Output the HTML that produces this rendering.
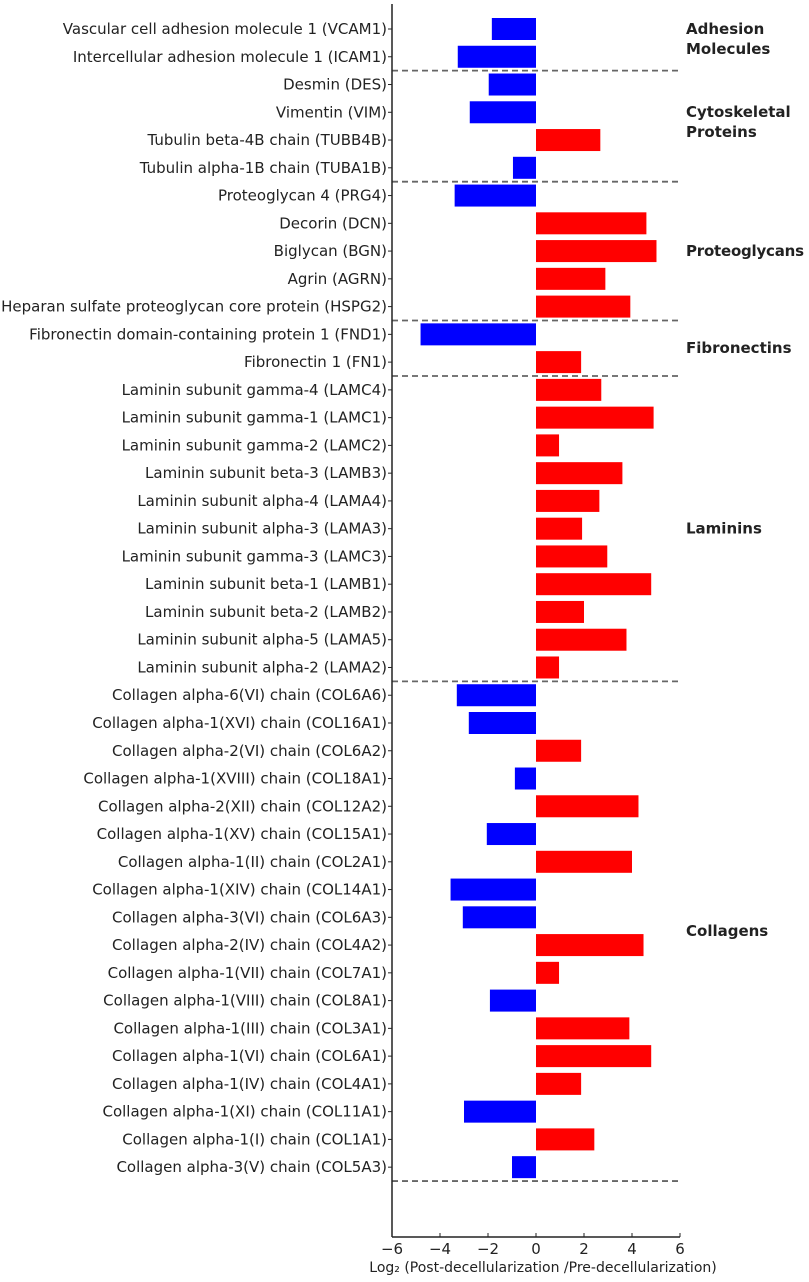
<!DOCTYPE html>
<html><head><meta charset="utf-8"><style>
html,body{margin:0;padding:0;background:#fff}
svg{display:block;font-family:"DejaVu Sans","Liberation Sans",sans-serif}
</style></head><body>
<svg id="chart" width="809" height="1282" viewBox="0 0 809 1282" xmlns="http://www.w3.org/2000/svg"></svg>
<script>
const categories=["Vascular cell adhesion molecule 1 (VCAM1)","Intercellular adhesion molecule 1 (ICAM1)","Desmin (DES)","Vimentin (VIM)","Tubulin beta-4B chain (TUBB4B)","Tubulin alpha-1B chain (TUBA1B)","Proteoglycan 4 (PRG4)","Decorin (DCN)","Biglycan (BGN)","Agrin (AGRN)","Heparan sulfate proteoglycan core protein (HSPG2)","Fibronectin domain-containing protein 1 (FND1)","Fibronectin 1 (FN1)","Laminin subunit gamma-4 (LAMC4)","Laminin subunit gamma-1 (LAMC1)","Laminin subunit gamma-2 (LAMC2)","Laminin subunit beta-3 (LAMB3)","Laminin subunit alpha-4 (LAMA4)","Laminin subunit alpha-3 (LAMA3)","Laminin subunit gamma-3 (LAMC3)","Laminin subunit beta-1 (LAMB1)","Laminin subunit beta-2 (LAMB2)","Laminin subunit alpha-5 (LAMA5)","Laminin subunit alpha-2 (LAMA2)","Collagen alpha-6(VI) chain (COL6A6)","Collagen alpha-1(XVI) chain (COL16A1)","Collagen alpha-2(VI) chain (COL6A2)","Collagen alpha-1(XVIII) chain (COL18A1)","Collagen alpha-2(XII) chain (COL12A2)","Collagen alpha-1(XV) chain (COL15A1)","Collagen alpha-1(II) chain (COL2A1)","Collagen alpha-1(XIV) chain (COL14A1)","Collagen alpha-3(VI) chain (COL6A3)","Collagen alpha-2(IV) chain (COL4A2)","Collagen alpha-1(VII) chain (COL7A1)","Collagen alpha-1(VIII) chain (COL8A1)","Collagen alpha-1(III) chain (COL3A1)","Collagen alpha-1(VI) chain (COL6A1)","Collagen alpha-1(IV) chain (COL4A1)","Collagen alpha-1(XI) chain (COL11A1)","Collagen alpha-1(I) chain (COL1A1)","Collagen alpha-3(V) chain (COL5A3)"];
const values=[-1.84,-3.26,-1.97,-2.76,2.68,-0.96,-3.39,4.6,5.02,2.89,3.93,-4.81,1.88,2.72,4.9,0.96,3.6,2.64,1.92,2.97,4.8,2.0,3.77,0.96,-3.3,-2.8,1.88,-0.88,4.27,-2.05,4.0,-3.56,-3.05,4.48,0.96,-1.92,3.89,4.8,1.88,-3.0,2.43,-1.0];
const xTicks=[-6,-4,-2,0,2,4,6];
const groupNames=[["Adhesion","Molecules"],["Cytoskeletal","Proteins"],["Proteoglycans"],["Fibronectins"],["Laminins"],["Collagens"]];
const groupStart=[0,2,6,11,13,24];
const groupEnd=[1,5,10,12,23,41];

const svg=document.getElementById('chart');
const NS='http://www.w3.org/2000/svg';
const x0=392,x1=680,xmin=-6,xmax=6;
const X=v=>x0+(v-xmin)/(xmax-xmin)*(x1-x0);
const rowTop=29,rowStep=27.76;
const Y=i=>rowTop+i*rowStep;
const barH=22, axisY=1237;
function mk(t,a){const e=document.createElementNS(NS,t);for(const k in a)e.setAttribute(k,a[k]);svg.appendChild(e);return e;}

categories.forEach((c,i)=>{
  const v=values[i];
  const r=mk('rect',{x:Math.min(X(0),X(v)),y:Y(i)-barH/2,width:Math.abs(X(v)-X(0)),height:barH,fill:v<0?'#0000ff':'#ff0000'});
  
  
  const t=mk('text',{x:387,y:Y(i)+5,'text-anchor':'end','font-size':'15',fill:'#222'});
  t.textContent=c;
  
  
  const tk=mk('line',{x1:x0-4,x2:x0,y1:Y(i),y2:Y(i),stroke:'#222','stroke-width':1});
  
  
});
groupEnd.forEach((e,g)=>{
  const y=(Y(e)+Y(e+1))/2;
  const l=mk('line',{x1:x0,x2:x1,y1:y,y2:y,stroke:'#666','stroke-width':1.8,'stroke-dasharray':'6,4'});
  
  
  const cy=(Y(groupStart[g])+Y(e))/2;
  const lines=groupNames[g];
  lines.forEach((s,k)=>{
    const t=mk('text',{x:686,y:cy+5+(k-(lines.length-1)/2)*20-(lines.length>1?4:0),'font-size':'15','font-weight':'bold',fill:'#222',textLength:s.length>12?118:null});
    if(s.length<=12)t.removeAttribute('textLength');
    t.textContent=s;
    
    
  });
});
let a=mk('line',{x1:x0,x2:x0,y1:4,y2:axisY,stroke:'#222','stroke-width':1.5});


a=mk('line',{x1:x0,x2:x1,y1:axisY,y2:axisY,stroke:'#222','stroke-width':1.5});


xTicks.forEach(v=>{
  const l=mk('line',{x1:X(v),x2:X(v),y1:axisY-4,y2:axisY,stroke:'#222','stroke-width':1});
  
  
  const t=mk('text',{x:X(v),y:axisY+17,'text-anchor':'middle','font-size':'15',fill:'#222'});
  t.textContent=v<0?'\u2212'+Math.abs(v):String(v);
  
  
});
const tt=mk('text',{x:543,y:1272,'text-anchor':'middle','font-size':'14',fill:'#222'});
tt.textContent='Log\u2082 (Post-decellularization /Pre-decellularization)';


</script>
</body></html>
